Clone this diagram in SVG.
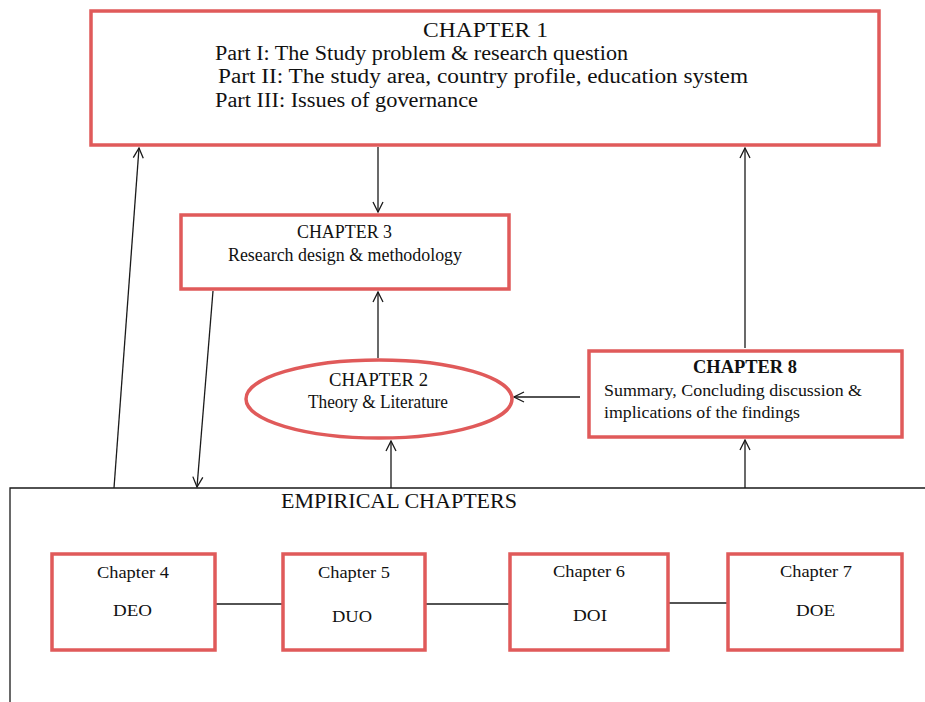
<svg xmlns="http://www.w3.org/2000/svg" width="925" height="702" viewBox="0 0 925 702">
  <style>
    .box { fill: #ffffff; stroke: #e05a5a; stroke-width: 3.5; }
    .wire { fill: none; stroke: #1a1a1a; stroke-width: 1.3; }
    text { font-family: "Liberation Serif", "Times New Roman", serif; fill: #111111; }
    .t20 { font-size: 20px; }
    .t18 { font-size: 18px; }
    .t17 { font-size: 17px; }
  </style>
  <defs>
    <marker id="arrow" viewBox="0 0 12 12" refX="11" refY="6" markerWidth="12" markerHeight="12" markerUnits="userSpaceOnUse" orient="auto">
      <path d="M1,1 L11,6 L1,11" fill="none" stroke="#1a1a1a" stroke-width="1.3"/>
    </marker>
  </defs>

  <rect width="925" height="702" fill="#ffffff"/>

  <!-- empirical chapters frame -->
  <g id="empirical">
    <path class="wire" d="M10,702 L10,488 L925,488"/>
    <text class="t20" x="281" y="508" textLength="236" lengthAdjust="spacingAndGlyphs">EMPIRICAL CHAPTERS</text>
  </g>

  <g id="connectors">
    <line class="wire" x1="378" y1="147" x2="378" y2="212" marker-end="url(#arrow)"/>
    <line class="wire" x1="114" y1="488" x2="139" y2="148" marker-end="url(#arrow)"/>
    <line class="wire" x1="213" y1="291" x2="197" y2="487" marker-end="url(#arrow)"/>
    <line class="wire" x1="378" y1="358" x2="378" y2="292" marker-end="url(#arrow)"/>
    <line class="wire" x1="391" y1="488" x2="391" y2="441" marker-end="url(#arrow)"/>
    <line class="wire" x1="580" y1="397" x2="514" y2="397" marker-end="url(#arrow)"/>
    <line class="wire" x1="745" y1="348" x2="745" y2="148" marker-end="url(#arrow)"/>
    <line class="wire" x1="745" y1="488" x2="745" y2="440" marker-end="url(#arrow)"/>
    <line class="wire" x1="215" y1="604" x2="282" y2="604"/>
    <line class="wire" x1="425" y1="604" x2="509" y2="604"/>
    <line class="wire" x1="668" y1="603" x2="727" y2="603"/>
  </g>

  <g id="chapter1">
    <rect class="box" x="91" y="11" width="788" height="134"/>
    <text class="t20" x="423" y="37" textLength="125" lengthAdjust="spacingAndGlyphs">CHAPTER 1</text>
    <text class="t20" x="215" y="60" textLength="413" lengthAdjust="spacingAndGlyphs">Part I: The Study problem &amp; research question</text>
    <text class="t20" x="218" y="83" textLength="530" lengthAdjust="spacingAndGlyphs">Part II: The study area, country profile, education system</text>
    <text class="t20" x="215" y="107" textLength="263" lengthAdjust="spacingAndGlyphs">Part III: Issues of governance</text>
  </g>

  <g id="chapter3">
    <rect class="box" x="181" y="215" width="328" height="74"/>
    <text class="t18" x="297" y="238" textLength="95" lengthAdjust="spacingAndGlyphs">CHAPTER 3</text>
    <text class="t18" x="228" y="261" textLength="234" lengthAdjust="spacingAndGlyphs">Research design &amp; methodology</text>
  </g>

  <g id="chapter2">
    <ellipse class="box" cx="379" cy="399" rx="133" ry="39"/>
    <text class="t18" x="329" y="386" textLength="99" lengthAdjust="spacingAndGlyphs">CHAPTER 2</text>
    <text class="t18" x="308" y="408" textLength="140" lengthAdjust="spacingAndGlyphs">Theory &amp; Literature</text>
  </g>

  <g id="chapter8">
    <rect class="box" x="589" y="351" width="313" height="86"/>
    <text class="t18" x="693" y="373" textLength="104" lengthAdjust="spacingAndGlyphs" font-weight="bold">CHAPTER 8</text>
    <text class="t17" x="604" y="396" textLength="258" lengthAdjust="spacingAndGlyphs">Summary, Concluding discussion &amp;</text>
    <text class="t17" x="604" y="418" textLength="196" lengthAdjust="spacingAndGlyphs">implications of the findings</text>
  </g>

  <g id="chapter4">
    <rect class="box" x="52" y="554" width="163" height="96"/>
    <text class="t17" x="97" y="578" textLength="72" lengthAdjust="spacingAndGlyphs">Chapter 4</text>
    <text class="t17" x="113" y="616" textLength="39" lengthAdjust="spacingAndGlyphs">DEO</text>
  </g>

  <g id="chapter5">
    <rect class="box" x="283" y="554" width="142" height="96"/>
    <text class="t17" x="318" y="578" textLength="72" lengthAdjust="spacingAndGlyphs">Chapter 5</text>
    <text class="t17" x="332" y="622" textLength="40" lengthAdjust="spacingAndGlyphs">DUO</text>
  </g>

  <g id="chapter6">
    <rect class="box" x="510" y="554" width="158" height="96"/>
    <text class="t17" x="553" y="577" textLength="72" lengthAdjust="spacingAndGlyphs">Chapter 6</text>
    <text class="t17" x="573" y="621" textLength="34" lengthAdjust="spacingAndGlyphs">DOI</text>
  </g>

  <g id="chapter7">
    <rect class="box" x="728" y="554" width="174" height="96"/>
    <text class="t17" x="780" y="577" textLength="72" lengthAdjust="spacingAndGlyphs">Chapter 7</text>
    <text class="t17" x="796" y="616" textLength="39" lengthAdjust="spacingAndGlyphs">DOE</text>
  </g>
</svg>
